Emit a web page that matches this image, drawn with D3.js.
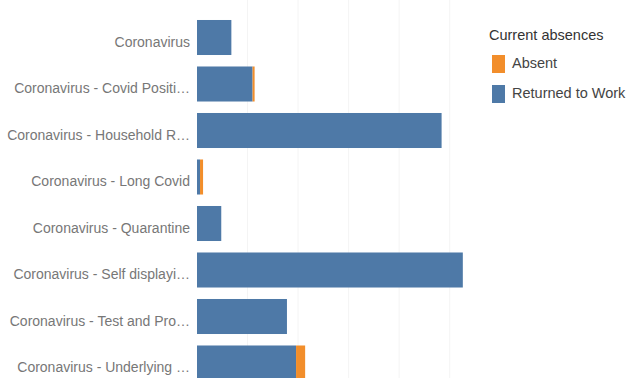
<!DOCTYPE html>
<html>
<head>
<meta charset="utf-8">
<script src="https://cdn.jsdelivr.net/npm/d3@7"></script>
<style>
  html, body { margin: 0; padding: 0; background: #fff; }
  svg { display: block; font-family: "Liberation Sans", Arial, sans-serif; }
</style>
</head>
<body>
<svg id="chart" width="630" height="378"></svg>
<script>
// Absence reasons and counts per status
const categories = [
  "Coronavirus",
  "Coronavirus - Covid Positi…",
  "Coronavirus - Household R…",
  "Coronavirus - Long Covid",
  "Coronavirus - Quarantine",
  "Coronavirus - Self displayi…",
  "Coronavirus - Test and Pro…",
  "Coronavirus - Underlying …"
];
const returnedToWork = [34, 55, 242, 3, 24, 263, 89, 98];
const absent =         [0,  2,  0,   3, 0,  0,   0,  9];
const gridTicks = [0, 50, 100, 150, 200, 250];
const seriesNames = ["Absent", "Returned to Work"];
const seriesColors = ["#f28e2b", "#4e79a7"];

const svg = d3.select("#chart");

const x = d3.scaleLinear().domain([0, 280]).range([197, 480]);
const y = d3.scaleBand().domain(categories).range([14.25, 386.25]).paddingInner(0.247).paddingOuter(0.1235);

// faint vertical gridlines
svg.append("g").selectAll("line")
  .data(gridTicks.slice(1))
  .join("line")
  .attr("x1", d => x(d)).attr("x2", d => x(d))
  .attr("y1", 0).attr("y2", 378)
  .attr("stroke", "#f4f4f4").attr("stroke-width", 1);

// stacked bars: returned to work first, absent appended after it
const rows = categories.map((c, i) => ({ cat: c, ret: returnedToWork[i], abs: absent[i] }));
const stack = d3.stack().keys(["ret", "abs"])(rows);
const colorFor = { ret: seriesColors[1], abs: seriesColors[0] };

svg.append("g").selectAll("g")
  .data(stack)
  .join("g")
  .attr("fill", s => colorFor[s.key])
  .selectAll("rect")
  .data(s => s)
  .join("rect")
  .attr("x", d => x(d[0]))
  .attr("width", d => Math.max(0, x(d[1]) - x(d[0])))
  .attr("y", d => y(d.data.cat))
  .attr("height", y.bandwidth());

// category labels, right aligned against the bars
svg.append("g").selectAll("text")
  .data(categories)
  .join("text")
  .attr("x", 190)
  .attr("y", d => y(d) + y.bandwidth() / 2 + 9)
  .attr("text-anchor", "end")
  .attr("font-size", 14)
  .attr("fill", "#777")
  .text(d => d);

// legend
const legend = svg.append("g");
legend.append("text")
  .attr("x", 489).attr("y", 40)
  .attr("font-size", 14.5).attr("fill", "#333")
  .text("Current absences");
seriesNames.forEach((name, i) => {
  const top = 55 + i * 30;
  legend.append("rect")
    .attr("x", 492).attr("y", top)
    .attr("width", 13).attr("height", 18)
    .attr("fill", seriesColors[i]);
  legend.append("text")
    .attr("x", 512).attr("y", top + 13)
    .attr("font-size", 14.5).attr("fill", "#444")
    .text(name);
});
</script>
</body>
</html>
